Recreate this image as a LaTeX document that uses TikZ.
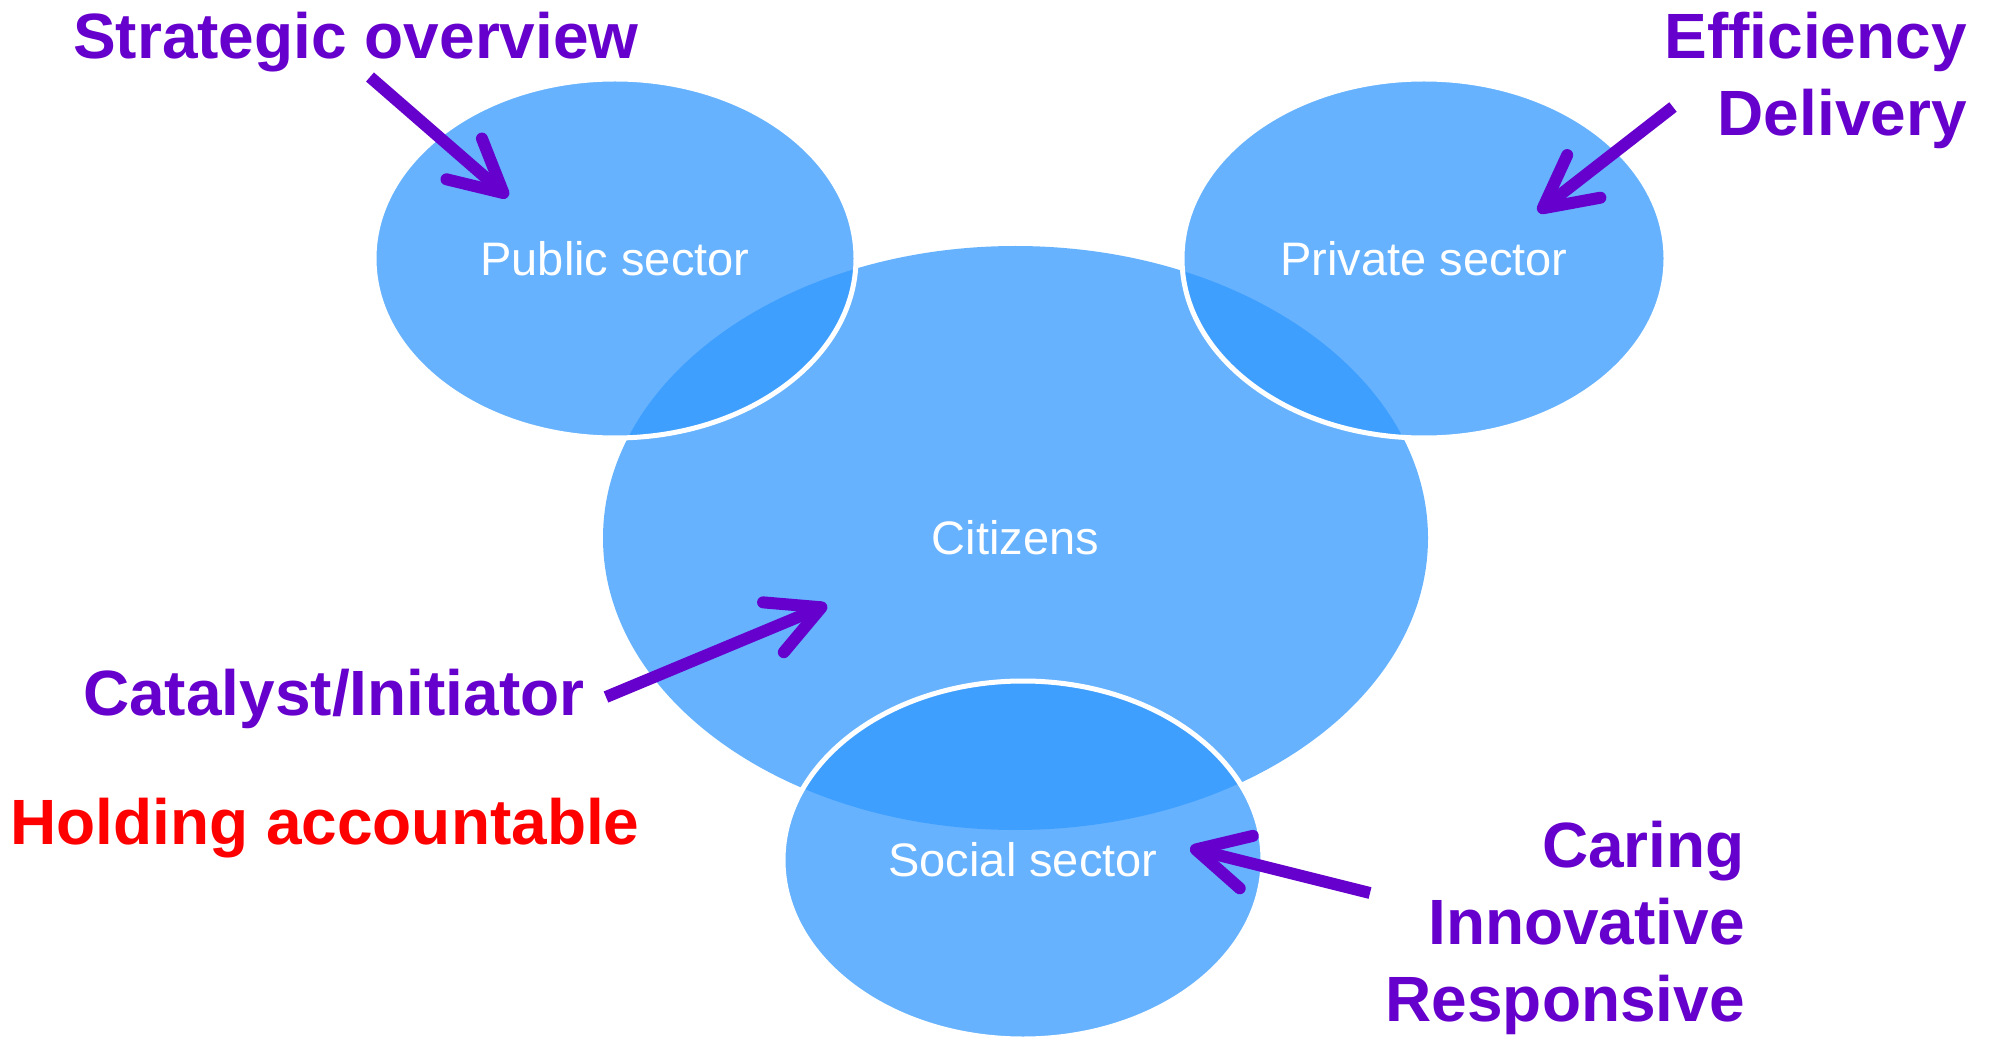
\documentclass[tikz,border=0pt]{standalone}
\usepackage{fontspec}
\setmainfont{Liberation Sans}
\usetikzlibrary{shapes.geometric,arrows.meta}

\newlength{\du}
\setlength{\du}{10pt}

\definecolor{sectorblue}{rgb}{0.200000, 0.600000, 1.000000}
\definecolor{notepurple}{rgb}{0.400000, 0.000000, 0.800000}
\definecolor{notered}{rgb}{1.000000, 0.000000, 0.000000}

\tikzset{
  sector/.style={ellipse, fill=sectorblue, fill opacity=0.75, text opacity=1, text=white, inner sep=0pt, font=\fontsize{47}{56}\selectfont},
  sectoredge/.style={sector, draw=white, line width=0.5\du},
  note/.style={text=notepurple, inner sep=0pt, font=\fontsize{64}{77}\selectfont\bfseries},
  pointer/.style={draw=notepurple, line width=1.2\du, -{Straight Barb[length=52pt,width=54pt,round]}},
}

\begin{document}
\begin{tikzpicture}
\pgftransformxscale{1.000000}
\pgftransformyscale{-1.000000}
\fill[white] (0\du,0\du) rectangle (199.5\du,104\du);
\useasboundingbox (0\du,0\du) rectangle (199.5\du,104\du);
% sectors
\node[sector, minimum width=82.5\du, minimum height=58.4\du] (citizens) at (101.55\du,53.8\du) {Citizens};
\node[sectoredge, minimum width=48.2\du, minimum height=35.9\du] (public) at (61.5\du,25.85\du) {Public sector};
\node[sectoredge, minimum width=48.4\du, minimum height=35.9\du] (private) at (142.4\du,25.85\du) {Private sector};
\node[sectoredge, minimum width=48.0\du, minimum height=35.8\du] (social) at (102.3\du,86.0\du) {Social sector};
% notes
\node[note, anchor=base west] (strategic) at (7.3\du,5.9\du) {Strategic overview};
\node[note, anchor=north east, align=right] (efficiency) at (196.7\du,1.2\du) {Efficiency\\Delivery};
\node[note, anchor=base west] (catalyst) at (8.3\du,71.5\du) {Catalyst/Initiator};
\node[note, anchor=base west, text=notered] (holding) at (1.0\du,84.4\du) {Holding accountable};
\node[note, anchor=north east, align=right] (caring) at (174.5\du,82.1\du) {Caring\\Innovative\\Responsive};
% pointers
\coordinate (strategic-tail) at (37.0\du,7.7\du);
\coordinate (strategic-head) at (50.8\du,19.7\du);
\coordinate (efficiency-tail) at (167.3\du,10.7\du);
\coordinate (efficiency-head) at (153.8\du,21.2\du);
\coordinate (catalyst-tail) at (60.6\du,69.7\du);
\coordinate (catalyst-head) at (82.7\du,60.5\du);
\coordinate (caring-tail) at (137.0\du,89.3\du);
\coordinate (caring-head) at (119.0\du,84.8\du);
\draw[pointer] (strategic-tail) -- (strategic-head);
\draw[pointer] (efficiency-tail) -- (efficiency-head);
\draw[pointer] (catalyst-tail) -- (catalyst-head);
\draw[pointer] (caring-tail) -- (caring-head);
\end{tikzpicture}
\end{document}
